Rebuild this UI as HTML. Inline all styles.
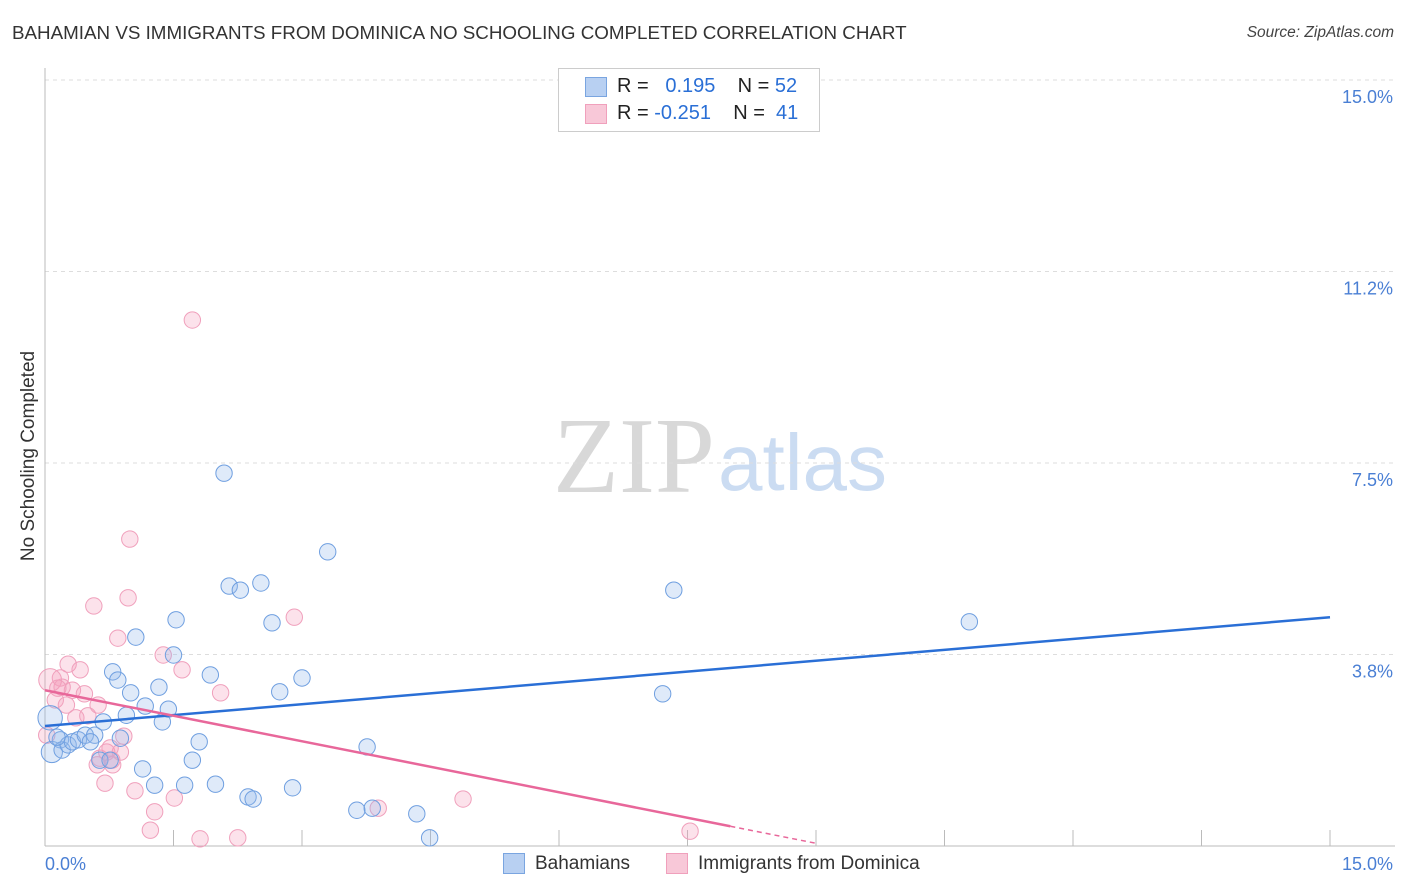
<!DOCTYPE html>
<html><head><meta charset="utf-8">
<style>
body{margin:0;background:#fff;font-family:"Liberation Sans",sans-serif;}
#wrap{position:relative;width:1406px;height:892px;overflow:hidden;}
.t{position:absolute;white-space:nowrap;}
</style></head>
<body>
<div id="wrap">
<div class="t" style="left:12px;top:22px;font-size:18.8px;color:#333;">BAHAMIAN VS IMMIGRANTS FROM DOMINICA NO SCHOOLING COMPLETED CORRELATION CHART</div>
<div class="t" style="right:12px;top:24px;font-size:15.5px;color:#444;font-style:italic;">Source: ZipAtlas.com</div>
<svg id="svg" width="1406" height="892" style="position:absolute;left:0;top:0"></svg>
</div>
<script>
const xTicks=[0,1.5,3,4.5,6,7.5,9,10.5,12,13.5,15];
const yTicks=[3.75,7.5,11.25,15.0];
const yTickLabels=["3.8%","7.5%","11.2%","15.0%"];
const blueX=[0.08,0.18,0.20,0.27,0.32,0.39,0.47,0.58,0.64,0.68,0.79,0.85,0.95,1.00,1.06,1.17,1.28,1.14,1.33,1.37,1.44,1.50,1.53,1.63,1.72,1.80,1.93,1.99,2.09,2.15,2.28,2.37,2.43,2.52,2.65,2.74,2.89,3.00,3.30,3.64,3.82,3.76,4.34,4.49,7.21,7.34,10.79,0.06,0.88,0.53,0.14,0.76];
const blueY=[1.84,2.08,1.88,1.98,2.04,2.08,2.17,2.17,1.68,2.43,3.41,3.25,2.56,3.00,4.09,2.74,1.19,1.51,3.11,2.43,2.68,3.74,4.43,1.19,1.68,2.04,3.35,1.21,7.30,5.09,5.01,0.96,0.92,5.15,4.37,3.02,1.14,3.29,5.76,0.70,0.74,1.94,0.63,0.16,2.98,5.01,4.39,2.51,2.11,2.04,2.13,1.68];
const blueSize=[12,9,9,9,9,9,9,9,9,9,9,9,9,9,9,9,9,9,9,9,9,9,9,9,9,9,9,9,9,9,9,9,9,9,9,9,9,9,9,9,9,9,9,9,9,9,9,14,9,9,9,9];
const pinkX=[1.72,0.99,0.97,0.57,2.91,0.85,1.38,1.60,2.05,0.27,0.41,0.18,0.20,0.32,0.46,0.12,0.62,0.36,0.50,0.92,0.72,0.88,0.78,0.61,0.70,1.05,1.28,1.51,1.23,1.81,2.25,3.89,4.88,7.53,0.06,0.15,0.64,0.25,0.76,0.02,0.79];
const pinkY=[10.30,6.01,4.86,4.70,4.48,4.07,3.74,3.45,3.00,3.56,3.45,3.29,3.11,3.05,2.98,2.86,2.76,2.51,2.55,2.15,1.84,1.84,1.68,1.59,1.23,1.08,0.67,0.94,0.31,0.14,0.16,0.74,0.92,0.29,3.25,3.09,1.72,2.76,1.92,2.17,1.59];
const pinkSize=[9,9,9,9,9,9,9,9,9,9,9,9,9,9,9,9,9,9,9,9,9,9,9,9,9,9,9,9,9,9,9,9,9,9,13,9,9,9,9,9,9];
const blueTrend=[2.35,4.48];
const pinkTrend=[3.05,-0.333];
const pinkSolidEnd=8.0, pinkDashEnd=9.0;

const X=v=>45+v/15*1285, Y=v=>846-v/15*766;
const svg=document.getElementById('svg');
const NS='http://www.w3.org/2000/svg';
function mk(tag,at){const e=document.createElementNS(NS,tag);for(const k in at)e.setAttribute(k,at[k]);svg.appendChild(e);return e;}
let w=mk('text',{x:553,y:492,'font-size':108,fill:'#d8d8d8','font-family':'Liberation Serif,serif'});w.textContent='ZIP';


w=mk('text',{x:718,y:490,'font-size':80,fill:'#cbdcf2','font-family':'Liberation Sans,sans-serif'});w.textContent='atlas';


yTicks.forEach((t,i)=>{
 const g=mk('line',{x1:45,x2:1395,y1:Y(t),y2:Y(t),stroke:'#ddd','stroke-dasharray':'4,4'});
 
 
 const l=mk('text',{x:1393,y:Y(t)+23,'text-anchor':'end','font-size':18,fill:'#4a7fd4'});l.textContent=yTickLabels[i];
 
 
});
let a=mk('line',{x1:45,x2:45,y1:68,y2:846,stroke:'#bbb'});


a=mk('line',{x1:45,x2:1395,y1:846,y2:846,stroke:'#bbb'});


xTicks.forEach(t=>{const k=mk('line',{x1:X(t),x2:X(t),y1:846,y2:830,stroke:'#bbb'});
 
 });
let tl=mk('text',{x:45,y:870,'font-size':18,fill:'#4a7fd4'});tl.textContent='0.0%';


tl=mk('text',{x:1393,y:870,'text-anchor':'end','font-size':18,fill:'#4a7fd4'});tl.textContent='15.0%';


tl=mk('text',{x:34,y:456,'font-size':19,fill:'#333','text-anchor':'middle',transform:'rotate(-90 34 456)'});tl.textContent='No Schooling Completed';


pinkX.forEach((v,i)=>{const c=mk('circle',{cx:X(v),cy:Y(pinkY[i]),r:pinkSize[i]/1.25+1,fill:'rgba(244,160,190,0.3)',stroke:'#f0a0bc','stroke-width':1});
 
 });
blueX.forEach((v,i)=>{const c=mk('circle',{cx:X(v),cy:Y(blueY[i]),r:blueSize[i]/1.25+1,fill:'rgba(150,185,235,0.3)',stroke:'#6f9fe0','stroke-width':1});
 
 });
let tr=mk('line',{x1:X(0),y1:Y(blueTrend[0]),x2:X(15),y2:Y(blueTrend[1]),stroke:'#2a6fd6','stroke-width':2.5});


const py=x=>pinkTrend[0]+pinkTrend[1]*x;
tr=mk('line',{x1:X(0),y1:Y(py(0)),x2:X(pinkSolidEnd),y2:Y(py(pinkSolidEnd)),stroke:'#e8679a','stroke-width':2.5});


tr=mk('line',{x1:X(pinkSolidEnd),y1:Y(py(pinkSolidEnd)),x2:X(pinkDashEnd),y2:Y(py(pinkDashEnd)),stroke:'#e8679a','stroke-width':1.5,'stroke-dasharray':'5,4'});


</script>
<div class="t" style="left:558px;top:68px;width:260px;height:62px;border:1px solid #ccc;background:#fff;font-size:20px;color:#222;">
 <div style="position:absolute;left:26px;top:8px;width:20px;height:18px;background:#b8d0f2;border:1px solid #7aa5e0"></div>
 <div style="position:absolute;left:58px;top:6px">R = &nbsp;<span style="color:#2a6fd6">&nbsp;0.195</span>&nbsp;&nbsp;&nbsp; N = <span style="color:#2a6fd6">52</span></div>
 <div style="position:absolute;left:26px;top:35px;width:20px;height:18px;background:#f8c8d8;border:1px solid #f0a0bc"></div>
 <div style="position:absolute;left:58px;top:33px">R = <span style="color:#2a6fd6">-0.251</span>&nbsp;&nbsp;&nbsp; N = &nbsp;<span style="color:#2a6fd6">41</span></div>
</div>
<div class="t" style="left:503px;top:853px;width:20px;height:19px;background:#b8d0f2;border:1px solid #7aa5e0"></div>
<div class="t" style="left:535px;top:853px;font-size:19px;color:#333">Bahamians</div>
<div class="t" style="left:666px;top:853px;width:20px;height:19px;background:#f8c8d8;border:1px solid #f0a0bc"></div>
<div class="t" style="left:698px;top:853px;font-size:19px;color:#333">Immigrants from Dominica</div>
</body></html>
